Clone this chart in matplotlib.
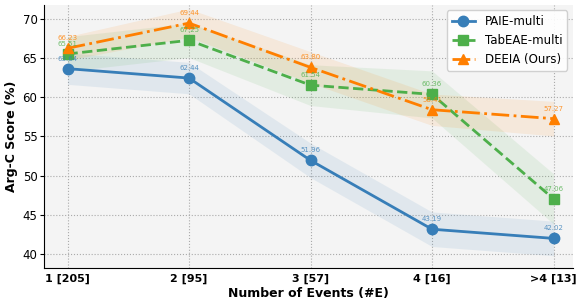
import matplotlib
matplotlib.use("Agg")
import matplotlib.pyplot as plt
import numpy as np

categories = ["1 [205]", "2 [95]", "3 [57]", "4 [16]", ">4 [13]"]
paie = [63.64, 62.44, 51.96, 43.19, 42.02]
tabeae = [65.51, 67.25, 61.54, 60.36, 47.06]
deeia = [66.23, 69.44, 63.80, 58.41, 57.27]
paie_err = [2.0, 2.0, 2.2, 2.2, 2.2]
tabeae_err = [2.2, 2.2, 2.6, 3.0, 3.2]
deeia_err = [1.5, 1.8, 2.0, 2.0, 2.2]

c_blue = "#377eb8"
c_green = "#4daf4a"
c_orange = "#ff7f00"

fig, ax = plt.subplots(figsize=(5.77, 3.05), dpi=100)
fig.subplots_adjust(left=0.077, right=0.993, top=0.985, bottom=0.12)
ax.set_facecolor("#f4f4f4")
x = np.arange(len(categories))

series = [
    ("PAIE-multi", paie, paie_err, c_blue, "-", "o"),
    ("TabEAE-multi", tabeae, tabeae_err, c_green, "--", "s"),
    ("DEEIA (Ours)", deeia, deeia_err, c_orange, "-.", "^"),
]
for name, vals, err, col, ls, mk in series:
    v = np.array(vals); e = np.array(err)
    ax.fill_between(x, v - e, v + e, color=col, alpha=0.1, linewidth=0)
    ax.plot(x, v, linestyle=ls, marker=mk, color=col, linewidth=2, markersize=7.5, label=name)
    for xi, yi in zip(x, v):
        ax.annotate(f"{yi:.2f}", (xi, yi), xytext=(0, 5), textcoords="offset points",
                    ha="center", va="bottom", fontsize=5, color=col, alpha=0.8)

ax.set_xticks(x)
ax.set_xticklabels(categories, fontweight="bold", fontsize=8)
ax.set_xlim(-0.19, 4.16)
ax.set_ylim(38.2, 71.8)
ax.set_yticks([40, 45, 50, 55, 60, 65, 70])
ax.tick_params(axis="y", labelsize=8.5, length=3, pad=2)
ax.tick_params(axis="x", length=0, pad=4)
ax.set_xlabel("Number of Events (#E)", fontweight="bold", fontsize=9, labelpad=2)
ax.set_ylabel("Arg-C Score (%)", fontweight="bold", fontsize=9, labelpad=3)
ax.grid(True, linestyle=":", color="#aaaaaa", linewidth=0.8)
ax.set_axisbelow(True)
for s in ["top", "right"]:
    ax.spines[s].set_visible(False)
ax.legend(loc="upper right", fontsize=8.5, framealpha=0.9)
fig.savefig("out.png", dpi=100)
